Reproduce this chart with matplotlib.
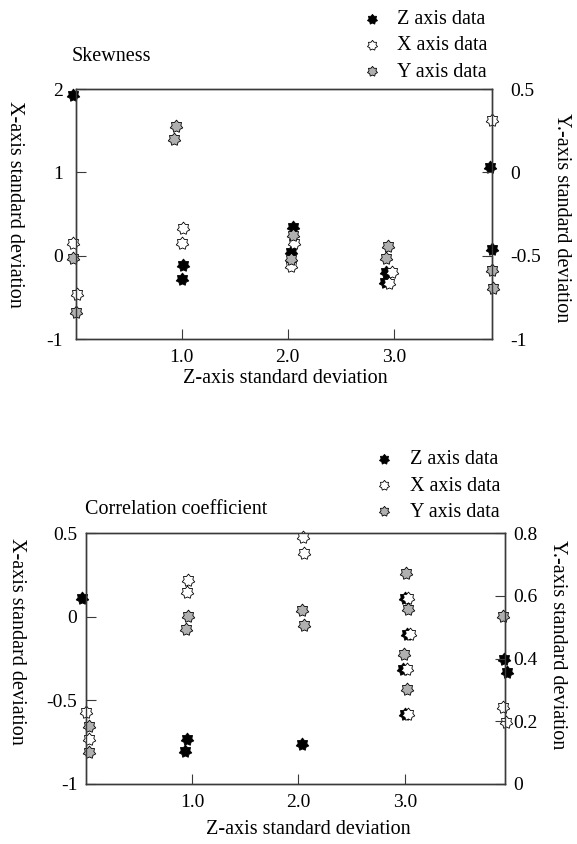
import numpy as np
import matplotlib
matplotlib.use('Agg')
import matplotlib.pyplot as plt
from matplotlib.path import Path

plt.rcParams['font.family'] = ['Liberation Serif', 'DejaVu Serif']

# ---- Skewness panel ----
skew_z_x = [-0.025, 1.01, 1.0, 2.05, 2.03, 2.93, 2.92, 3.91, 3.93]
skew_z_y = [1.93, -0.11, -0.28, 0.35, 0.05, -0.19, -0.31, 1.06, 0.08]
skew_x_x = [-0.025, 0.01, 1.01, 1.0, 2.06, 2.03, 2.98, 2.96, 3.93]
skew_x_y = [0.16, -0.46, 0.33, 0.16, 0.16, -0.12, -0.19, -0.32, 1.63]
skew_y_x = [-0.03, 0.0, 0.95, 0.93, 2.05, 2.03, 2.95, 2.93, 3.93, 3.94]
skew_y_y = [-0.03, -0.67, 1.56, 1.40, 0.25, -0.04, 0.12, -0.03, -0.17, -0.38]

# ---- Correlation coefficient panel ----
corr_z_x = [-0.04, 0.95, 0.93, 2.03, 3.0, 3.02, 2.98, 3.0, 3.93, 3.96]
corr_z_y = [0.11, -0.73, -0.80, -0.76, 0.11, -0.10, -0.31, -0.58, -0.25, -0.33]
corr_x_x = [0.0, 0.03, 0.96, 0.95, 2.04, 2.05, 3.03, 3.05, 3.02, 3.03, 3.92, 3.95]
corr_x_y = [-0.57, -0.73, 0.22, 0.15, 0.48, 0.38, 0.11, -0.10, -0.31, -0.58, -0.54, -0.63]
corr_y_x = [0.03, 0.03, 0.96, 0.94, 2.03, 2.05, 3.01, 3.03, 2.99, 3.02, 3.92]
corr_y_y = [-0.65, -0.81, 0.005, -0.07, 0.04, -0.05, 0.26, 0.045, -0.22, -0.43, 0.005]

x_ticks = [1.0, 2.0, 3.0]
x_ticklabels = ['1.0', '2.0', '3.0']
series_names = ['Z axis data', 'X axis data', 'Y axis data']

skew_left_ticks = [-1, 0, 1, 2]
skew_left_labels = ['-1', '0', '1', '2']
skew_right_ticks = [-1, -0.5, 0, 0.5]
skew_right_labels = ['-1', '-0.5', '0', '0.5']
corr_left_ticks = [-1, -0.5, 0, 0.5]
corr_left_labels = ['-1', '-0.5', '0', '0.5']
corr_right_ticks = [0, 0.2, 0.4, 0.6, 0.8]
corr_right_labels = ['0', '0.2', '0.4', '0.6', '0.8']

star = Path.unit_regular_star(7, 0.7)
face = ['black', 'white', '#b0b0b0']
spine_col = '#3a3a3a'
FS = 14.5
TFS = 14

W, H = 577, 844
fig = plt.figure(figsize=(W / 100, H / 100), dpi=100)


def px_axes(l, t, r, b):
    return fig.add_axes([l / W, 1 - b / H, (r - l) / W, (b - t) / H])


def panel(ax, xs, ys, ylim, lt, ll, rylim, rt, rl, lpad, rpad):
    handles = []
    for sx, sy, fc, name in zip(xs, ys, face, series_names):
        h = ax.scatter(sx, sy, marker=star, s=85, facecolor=fc,
                       edgecolor='black', linewidths=0.6, clip_on=False,
                       zorder=3, label=name)
        handles.append(h)
    ax.set_xlim(0, 3.93)
    ax.set_ylim(*ylim)
    ax.set_xticks(x_ticks)
    ax.set_xticklabels(x_ticklabels, fontsize=TFS)
    ax.set_yticks(lt)
    ax.set_yticklabels(ll, fontsize=TFS)
    ax.tick_params(direction='in', length=7.5, width=0.8, color=spine_col)
    ax.tick_params(axis='x', pad=7)
    ax.tick_params(axis='y', pad=lpad)
    for s in ax.spines.values():
        s.set_color(spine_col)
        s.set_linewidth(1.0)
    ax2 = ax.twinx()
    ax2.set_ylim(*rylim)
    ax2.set_yticks(rt)
    ax2.set_yticklabels(rl, fontsize=TFS)
    ax2.tick_params(direction='in', length=7.5, width=0.8, color=spine_col, pad=rpad)
    for s in ax2.spines.values():
        s.set_color(spine_col)
        s.set_linewidth(1.0)
    ax.set_xlabel('Z-axis standard deviation', fontsize=FS)
    ax.set_ylabel('X-axis standard deviation', fontsize=FS, rotation=-90, va='center')
    ax2.set_ylabel('Y.-axis standard deviation', fontsize=FS, rotation=-90, va='center')
    return ax2, handles


# top panel
ax = px_axes(75.7, 89, 492.3, 339.3)
ax2, hs = panel(ax, [skew_z_x, skew_x_x, skew_y_x], [skew_z_y, skew_x_y, skew_y_y],
                (-1, 2), skew_left_ticks, skew_left_labels,
                (-1, 0.5), skew_right_ticks, skew_right_labels, 9, 13)
ax.xaxis.set_label_coords(0.504, -0.12)
ax.yaxis.set_label_coords(-0.146, 0.54)
ax2.yaxis.set_label_coords(1.165, 0.485)
fig.text(71.8 / W, 1 - 56.7 / H, 'Skewness', fontsize=FS, va='center', ha='left')
fig.legend(handles=hs, loc='upper left', bbox_to_anchor=(362.3 / W, 0.988),
           frameon=False, borderpad=0, borderaxespad=0, handlelength=1.0,
           handletextpad=0.7, labelspacing=0.35, fontsize=FS,
           scatterpoints=1, markerscale=0.8)

# bottom panel
bx = px_axes(85.8, 533.3, 504.8, 784)
bx2, hs2 = panel(bx, [corr_z_x, corr_x_x, corr_y_x], [corr_z_y, corr_x_y, corr_y_y],
                 (-1, 0.5), corr_left_ticks, corr_left_labels,
                 (0, 0.8), corr_right_ticks, corr_right_labels, 6, 6)
bx.set_xlim(0, 3.94)
bx.xaxis.set_label_coords(0.53, -0.142)
bx.yaxis.set_label_coords(-0.166, 0.568)
bx2.yaxis.set_label_coords(1.125, 0.554)
fig.text(84.7 / W, 1 - 509.3 / H, 'Correlation coefficient', fontsize=FS, va='center', ha='left')
fig.legend(handles=hs2, loc='upper left', bbox_to_anchor=(373.9 / W, 0.4665),
           frameon=False, borderpad=0, borderaxespad=0, handlelength=1.0,
           handletextpad=0.8, labelspacing=0.35, fontsize=FS,
           scatterpoints=1, markerscale=0.8)

fig.savefig('out.png', dpi=100)
